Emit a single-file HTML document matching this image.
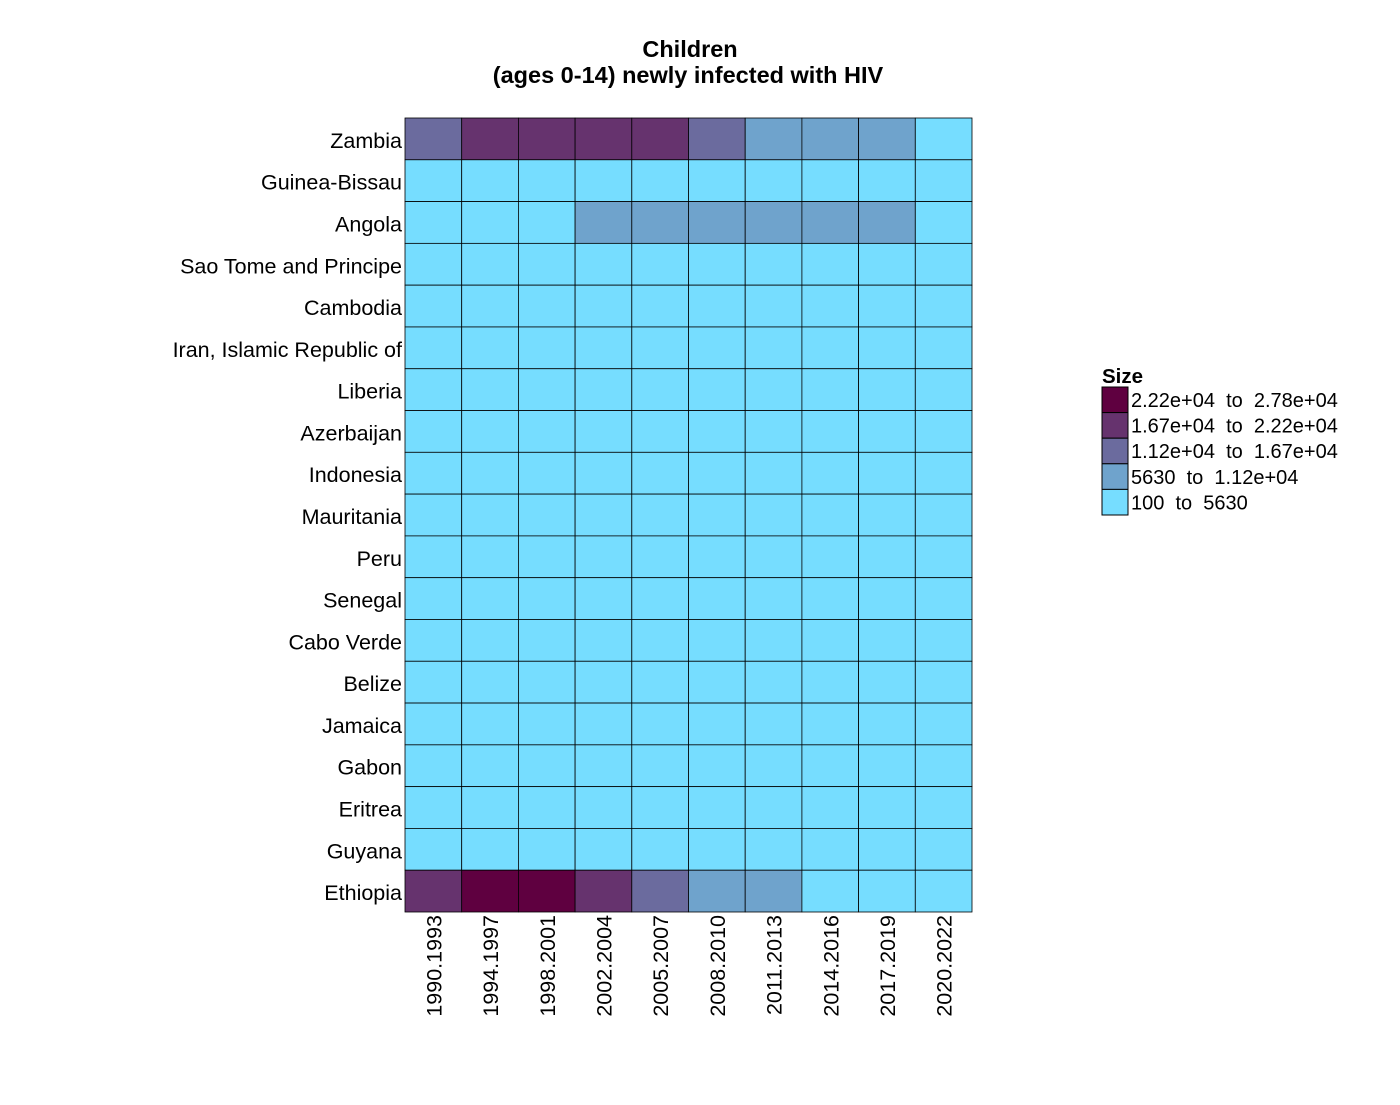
<!DOCTYPE html>
<html><head><meta charset="utf-8"><style>
body{margin:0;background:#fff}
svg text{font-family:"Liberation Sans",Arial,sans-serif}
</style></head><body>
<svg id="chart" width="1400" height="1100">
<text x="690" y="57" text-anchor="middle" font-size="23.5" font-weight="bold">Children</text>
<text x="688" y="83" text-anchor="middle" font-size="23.5" font-weight="bold">(ages 0-14) newly infected with HIV</text>
<g id="cells"></g><g id="ylabels"></g><g id="xlabels"></g><g id="legend"></g>
</svg>
<script>
const countries=["Zambia","Guinea-Bissau","Angola","Sao Tome and Principe","Cambodia","Iran, Islamic Republic of","Liberia","Azerbaijan","Indonesia","Mauritania","Peru","Senegal","Cabo Verde","Belize","Jamaica","Gabon","Eritrea","Guyana","Ethiopia"];
const periods=["1990.1993","1994.1997","1998.2001","2002.2004","2005.2007","2008.2010","2011.2013","2014.2016","2017.2019","2020.2022"];
const zambia=[14000,19000,19000,19000,19000,14000,8000,8000,8000,4000];
const guineaBissau=[400,500,600,700,700,600,500,400,400,300];
const angola=[3000,3500,4500,6500,7000,7500,7500,7000,6000,4500];
const small=[200,200,200,200,200,200,200,200,200,200];
const ethiopia=[19000,25000,24000,18000,13000,9000,7000,5000,3500,2500];
const values=[zambia,guineaBissau,angola,small,small,small,small,small,small,small,small,small,small,small,small,small,small,small,ethiopia];
const breaks=[100,5630,11200,16700,22200,27800];
const binLabels=["100  to  5630","5630  to  1.12e+04","1.12e+04  to  1.67e+04","1.67e+04  to  2.22e+04","2.22e+04  to  2.78e+04"];
const colors=["#76ddff","#6fa3cc","#6b6b9e","#66336e","#5f0040"];
const NS="http://www.w3.org/2000/svg";
const x0=405,x1=972,y0=118,y1=912;
const cw=(x1-x0)/periods.length, ch=(y1-y0)/countries.length;
const xs=i=>x0+i*cw, ys=j=>y0+j*ch;
function bin(v){for(let k=breaks.length-2;k>=0;k--)if(v>=breaks[k])return k;return 0;}
function mk(t,a,p){const e=document.createElementNS(NS,t);for(const k in a)e.setAttribute(k,a[k]);p.appendChild(e);return e;}
const cells=document.getElementById('cells');
values.forEach((row,j)=>row.forEach((v,i)=>{
 const r=mk('rect',{x:xs(i),y:ys(j),width:cw,height:ch,fill:colors[bin(v)],stroke:'#000','stroke-width':0.8},cells);
 
 
}));
const yl=document.getElementById('ylabels');
countries.forEach((c,j)=>{const t=mk('text',{x:402,y:ys(j)+ch/2+9,'text-anchor':'end','font-size':21.5},yl);t.textContent=c;
 
 });
const xl=document.getElementById('xlabels');
periods.forEach((p,i)=>{const cx=xs(i)+cw/2+8;const t=mk('text',{x:cx,y:915,'text-anchor':'end','font-size':21.5,transform:`rotate(-90 ${cx} 915)`},xl);t.textContent=p;
 
 });
const lg=document.getElementById('legend');
const lt=mk('text',{x:1102,y:383,'font-size':20.5,'font-weight':'bold'},lg);lt.textContent='Size';


for(let k=4;k>=0;k--){const r=4-k;const y=387+r*25.6;
 const b=mk('rect',{x:1102,y:y,width:26,height:25.6,fill:colors[k],stroke:'#000','stroke-width':1},lg);
 
 
 const t=mk('text',{x:1131,y:y+20,'font-size':20},lg);t.textContent=binLabels[k];t.style.whiteSpace='pre';
 
 }
</script>
</body></html>
